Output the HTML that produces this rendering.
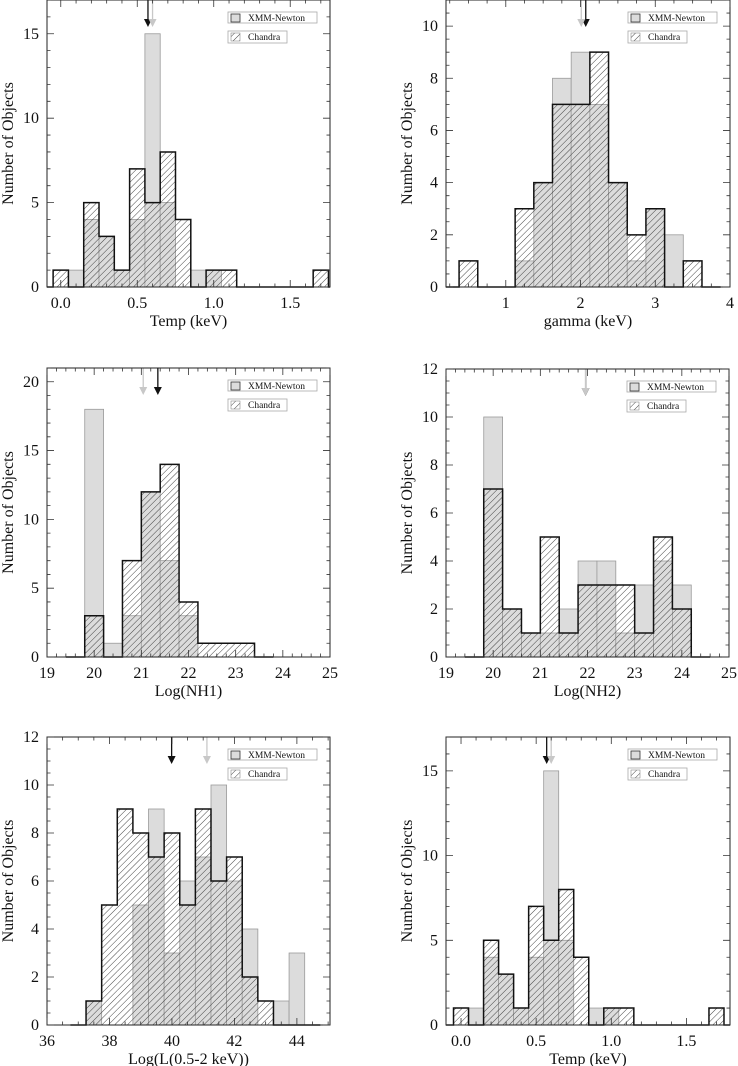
<!DOCTYPE html>
<html><head><meta charset="utf-8">
<style>
html,body{margin:0;padding:0;background:#fff;}
svg, svg text{display:block;font-family:"Liberation Serif","DejaVu Serif",serif;}
</style></head>
<body>
<svg id="fig" width="738" height="1066" viewBox="0 0 738 1066" xmlns="http://www.w3.org/2000/svg" font-family="Liberation Serif, DejaVu Serif, serif">
<defs>
<pattern id="hatch" patternUnits="userSpaceOnUse" width="4.5" height="4.5" patternTransform="rotate(45)">
<line x1="0" y1="0" x2="0" y2="4.5" stroke="#333" stroke-width="0.9"/>
</pattern>
</defs>
</svg>
<script>
// Panel 1 / 6: Temp
const tempCenters = [0.0,0.1,0.2,0.3,0.4,0.5,0.6,0.7,0.8,0.9,1.0,1.1,1.2,1.3,1.4,1.5,1.6,1.7];
const tempChandra = [1,0,5,3,1,7,5,8,4,0,1,1,0,0,0,0,0,1];
const tempXMM     = [0,1,4,3,1,4,15,5,0,1,1,0,0,0,0,0,0,0];
const tempXTicks = [0.0,0.5,1.0,1.5];
const tempXTickLabels = ["0.0","0.5","1.0","1.5"];
const tempYTicks = [0,5,10,15];
const tempArrows = [0.6,0.57]; // [xmm mean, chandra mean]
// Panel 2: gamma
const gamCenters = [0.5,0.75,1.0,1.25,1.5,1.75,2.0,2.25,2.5,2.75,3.0,3.25,3.5];
const gamChandra = [1,0,0,3,4,7,7,9,4,2,3,0,1];
const gamXMM     = [0,0,0,1,4,8,9,7,4,1,3,2,0];
const gamXTicks = [1,2,3,4];
const gamXTickLabels = ["1","2","3","4"];
const gamYTicks = [0,2,4,6,8,10];
const gamArrows = [2.01,2.07];
// Panel 3: NH1
const nh1Centers = [20.0,20.4,20.8,21.2,21.6,22.0,22.4,22.8,23.2];
const nh1Chandra = [3,0,7,12,14,4,1,1,1];
const nh1XMM     = [18,1,3,12,7,3,0,0,0];
const nhXTicks = [19,20,21,22,23,24,25];
const nhXTickLabels = ["19","20","21","22","23","24","25"];
const nh1YTicks = [0,5,10,15,20];
const nh1Arrows = [21.04,21.35];
// Panel 4: NH2
const nh2Centers = [20.0,20.4,20.8,21.2,21.6,22.0,22.4,22.8,23.2,23.6,24.0];
const nh2Chandra = [7,2,1,5,1,3,3,3,1,5,2];
const nh2XMM     = [10,2,1,1,2,4,4,1,3,4,3];
const nh2YTicks = [0,2,4,6,8,10,12];
const nh2Arrows = [21.96,21.96];
// Panel 5: Luminosity
const lumCenters = [37.5,38.0,38.5,39.0,39.5,40.0,40.5,41.0,41.5,42.0,42.5,43.0,43.5,44.0];
const lumChandra = [1,5,9,8,7,8,5,9,6,7,2,1,0,0];
const lumXMM     = [1,0,0,5,9,3,6,7,10,6,4,0,1,3];
const lumXTicks = [36,38,40,42,44];
const lumXTickLabels = ["36","38","40","42","44"];
const lumYTicks = [0,2,4,6,8,10,12];
const lumArrows = [41.12,39.99];

const NS = "http://www.w3.org/2000/svg";
const svg = document.getElementById('fig');
const defs = svg.querySelector('defs');
const FONT = '"Liberation Serif", "DejaVu Serif", serif';
let clipId = 0;
function mk(tag, attrs, parent){
  const e = document.createElementNS(NS, tag);
  for (const k in attrs) e.setAttribute(k, attrs[k]);
  if (tag === 'text') e.style.fontFamily = FONT;
  (parent||svg).appendChild(e);
  return e;
}

function panel(cfg){
  const g = mk('g', {});
  
  
  const b = cfg.box;
  const cid = 'clip' + (clipId++);
  const cp = mk('clipPath', {id: cid}, defs);
  mk('rect', {x:b.l, y:b.t-1, width:b.r-b.l, height:b.b-b.t+2}, cp);
  const sx = v => b.l + (v - cfg.x0) / (cfg.x1 - cfg.x0) * (b.r - b.l);
  const sy = v => b.b - (v - cfg.y0) / (cfg.y1 - cfg.y0) * (b.b - b.t);
  const hw = cfg.width / 2;
  const inner = mk('g', {'clip-path':'url(#'+cid+')'}, g);
  cfg.centers.forEach((c, i) => {
    const v = cfg.xmm[i]; if (!v) return;
    const r = mk('rect', {x: sx(c-hw), y: sy(v), width: sx(c+hw)-sx(c-hw), height: sy(0)-sy(v), fill:'#dcdcdc', stroke:'#9a9a9a', 'stroke-width':0.8}, inner);
    
    
  });
  cfg.centers.forEach((c, i) => {
    const v = cfg.chandra[i]; if (!v) return;
    const r = mk('rect', {x: sx(c-hw), y: sy(v), width: sx(c+hw)-sx(c-hw), height: sy(0)-sy(v), fill:'url(#hatch)', stroke:'none'}, inner);
    
    
  });
  const n = cfg.centers.length;
  let d = 'M' + sx(cfg.centers[0]-3*hw) + ',' + sy(0) + ' L' + sx(cfg.centers[0]-hw) + ',' + sy(0);
  cfg.centers.forEach((c, i) => {
    d += ' L' + sx(c-hw) + ',' + sy(cfg.chandra[i]) + ' L' + sx(c+hw) + ',' + sy(cfg.chandra[i]);
  });
  d += ' L' + sx(cfg.centers[n-1]+hw) + ',' + sy(0) + ' L' + sx(cfg.centers[n-1]+3*hw) + ',' + sy(0);
  const st = mk('path', {d: d, fill:'none', stroke:'#111', 'stroke-width':1.5}, inner);
  
  
  const colors = ['#c8c8c8', '#111'];
  [1, 0].forEach(i => {
    const x = sx(cfg.arrows[i]), tip = b.t + 27;
    const ln = mk('line', {x1:x, y1:b.t, x2:x, y2:tip-4, stroke:colors[i], 'stroke-width':1.3}, g);
    
    
    const hd = mk('polygon', {points:(x-4)+','+(tip-8)+' '+(x+4)+','+(tip-8)+' '+x+','+tip, fill:colors[i]}, g);
    
    
  });
  const fr = mk('rect', {x:b.l, y:b.t, width:b.r-b.l, height:b.b-b.t, fill:'none', stroke:'#222', 'stroke-width':1}, g);
  
  
  let tk = '';
  for (let v = Math.ceil(cfg.x0/cfg.xminor)*cfg.xminor; v <= cfg.x1+1e-9; v += cfg.xminor) {
    const x = sx(v);
    const isMaj = Math.abs(v/cfg.xmajor - Math.round(v/cfg.xmajor)) < 1e-6;
    const L = isMaj ? 7 : 3.5;
    tk += 'M'+x+','+b.b+' v'+(-L)+' M'+x+','+b.t+' v'+L+' ';
  }
  for (let v = cfg.y0; v <= cfg.y1+1e-9; v += cfg.yminor) {
    const y = sy(v);
    const isMaj = Math.abs(v/cfg.ymajor - Math.round(v/cfg.ymajor)) < 1e-6;
    const L = isMaj ? 7 : 3.5;
    tk += 'M'+b.l+','+y+' h'+L+' M'+b.r+','+y+' h'+(-L)+' ';
  }
  const tp = mk('path', {d:tk, stroke:'#333', 'stroke-width':0.8, fill:'none'}, g);
  
  
  cfg.xticks.forEach((v, i) => {
    const t = mk('text', {x:sx(v), y:b.b+21, 'font-size':16, 'text-anchor':'middle', fill:'#111'}, g);
    t.textContent = cfg.xlabels[i];
    
    
  });
  cfg.yticks.forEach(v => {
    const t = mk('text', {x:b.l-8, y:sy(v)+5, 'font-size':16, 'text-anchor':'end', fill:'#111'}, g);
    t.textContent = String(v);
    
    
  });
  const xt = mk('text', {x:(b.l+b.r)/2, y:b.b+39, 'font-size':16, 'text-anchor':'middle', fill:'#111'}, g);
  xt.textContent = cfg.xtitle;
  
  
  const yx = b.l - 34, yy = (b.t + b.b)/2;
  const yt = mk('text', {x:yx, y:yy, 'font-size':16, 'text-anchor':'middle', fill:'#111', transform:'rotate(-90 '+yx+' '+yy+')'}, g);
  yt.textContent = 'Number of Objects';
  
  
  const lx = b.r - 102, ly = b.t + 12;
  const lg = mk('g', {}, g);
  
  
  const b1 = mk('rect', {x:lx, y:ly, width:89, height:11, fill:'#fff', stroke:'#aaa', 'stroke-width':0.8}, lg);
  
  
  const s1 = mk('rect', {x:lx+3, y:ly+2, width:9, height:8, fill:'#dcdcdc', stroke:'#333', 'stroke-width':0.8}, lg);
  
  
  const t1 = mk('text', {x:lx+20, y:ly+9, 'font-size':9.5, fill:'#111'}, lg);
  t1.textContent = 'XMM-Newton';
  
  
  const b2 = mk('rect', {x:lx, y:ly+19, width:59, height:12, fill:'#fff', stroke:'#aaa', 'stroke-width':0.8}, lg);
  
  
  const s2 = mk('rect', {x:lx+3, y:ly+21, width:9, height:8, fill:'url(#hatch)', stroke:'#777', 'stroke-width':0.5}, lg);
  
  
  const t2 = mk('text', {x:lx+20, y:ly+28, 'font-size':9.5, fill:'#111'}, lg);
  t2.textContent = 'Chandra';
  
  
}

panel({name:'panel-temp-top', box:{l:47,r:330,t:0,b:287}, x0:-0.09, x1:1.76, y0:0, y1:17,
  centers:tempCenters, width:0.1, chandra:tempChandra, xmm:tempXMM, arrows:tempArrows,
  xticks:tempXTicks, xlabels:tempXTickLabels, yticks:tempYTicks, xmajor:0.5, xminor:0.1, ymajor:5, yminor:1, xtitle:'Temp (keV)'});
panel({name:'panel-gamma', box:{l:446,r:730,t:0,b:287}, x0:0.2, x1:4.0, y0:0, y1:11,
  centers:gamCenters, width:0.25, chandra:gamChandra, xmm:gamXMM, arrows:gamArrows,
  xticks:gamXTicks, xlabels:gamXTickLabels, yticks:gamYTicks, xmajor:1, xminor:0.25, ymajor:2, yminor:0.5, xtitle:'gamma (keV)'});
panel({name:'panel-nh1', box:{l:47,r:330,t:368,b:657}, x0:19, x1:25, y0:0, y1:21,
  centers:nh1Centers, width:0.4, chandra:nh1Chandra, xmm:nh1XMM, arrows:nh1Arrows,
  xticks:nhXTicks, xlabels:nhXTickLabels, yticks:nh1YTicks, xmajor:1, xminor:0.2, ymajor:5, yminor:1, xtitle:'Log(NH1)'});
panel({name:'panel-nh2', box:{l:446,r:729,t:369,b:657}, x0:19, x1:25, y0:0, y1:12,
  centers:nh2Centers, width:0.4, chandra:nh2Chandra, xmm:nh2XMM, arrows:nh2Arrows,
  xticks:nhXTicks, xlabels:nhXTickLabels, yticks:nh2YTicks, xmajor:1, xminor:0.2, ymajor:2, yminor:0.5, xtitle:'Log(NH2)'});
panel({name:'panel-luminosity', box:{l:47,r:330,t:737,b:1025}, x0:36, x1:45.06, y0:0, y1:12,
  centers:lumCenters, width:0.5, chandra:lumChandra, xmm:lumXMM, arrows:lumArrows,
  xticks:lumXTicks, xlabels:lumXTickLabels, yticks:lumYTicks, xmajor:2, xminor:0.5, ymajor:2, yminor:0.5, xtitle:'Log(L(0.5-2 keV))'});
panel({name:'panel-temp-bottom', box:{l:446,r:730,t:737,b:1025}, x0:-0.1, x1:1.79, y0:0, y1:17,
  centers:tempCenters, width:0.1, chandra:tempChandra, xmm:tempXMM, arrows:tempArrows,
  xticks:tempXTicks, xlabels:tempXTickLabels, yticks:tempYTicks, xmajor:0.5, xminor:0.1, ymajor:5, yminor:1, xtitle:'Temp (keV)'});
</script>
</body></html>
